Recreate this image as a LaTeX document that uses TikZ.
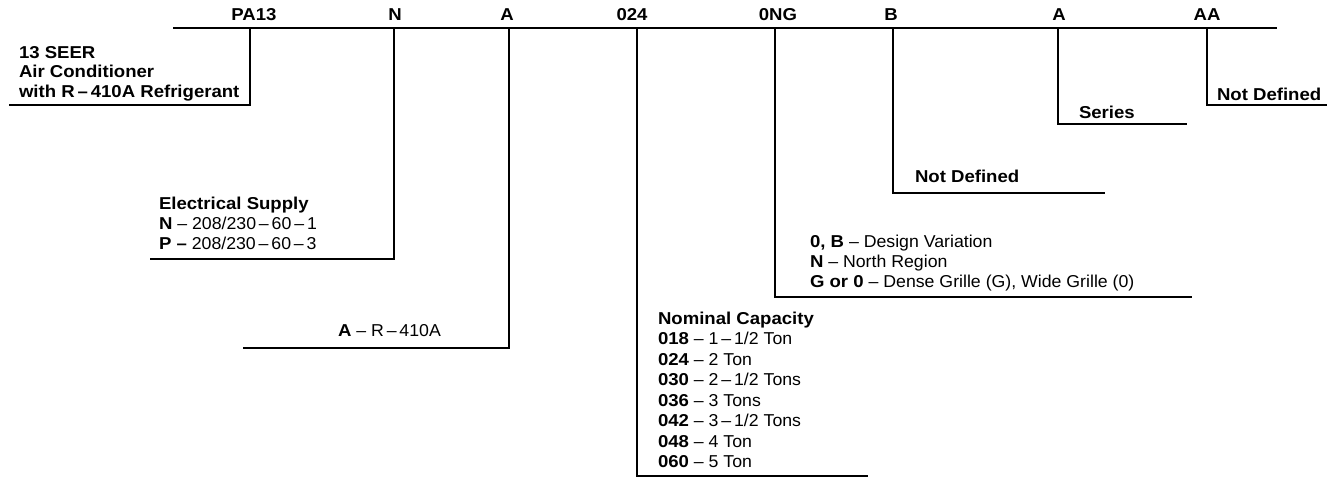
\documentclass[tikz,border=0pt]{standalone}
\usepackage{fontspec}
\setmainfont{Liberation Sans}[FakeStretch=1.03, BoldFeatures={FakeStretch=1.08}]
\newcommand\rdash{\,–\,}
\begin{document}
\begin{tikzpicture}[x=1pt, y=-1pt, line width=2pt,
  every node/.style = {inner sep=0pt, font=\fontsize{17.2}{20}\selectfont},
  code/.style = {anchor=base, font=\fontsize{17.2}{20}\selectfont\bfseries},
  legend/.style = {align=left, anchor=base west},
  legendbf/.style = {legend, font=\fontsize{17.2}{19.5}\selectfont\bfseries}]
\useasboundingbox (0,0) rectangle (1340,479);

    % model number along the top
    \coordinate (barL) at (173,27.5);
    \coordinate (barR) at (1277,27.5);
    \draw (barL) -- (barR);

    \node[code] (pa) at (254,20) {PA13};
    \node[code] (n) at (395,20) {N};
    \node[code] (a) at (507,20) {A};
    \node[code] (cap) at (632,20) {024};
    \node[code] (ong) at (778,20) {0NG};
    \node[code] (b) at (891,20) {B};
    \node[code] (ser) at (1059,20) {A};
    \node[code] (aa) at (1207,20) {AA};

    % legends (placed at the baseline of their last line)
    \node[legendbf] (1) at (18,97) {13 SEER\\Air Conditioner\\with R\rdash 410A Refrigerant};
    \node[legend] (2) at (158,249.3) {\textbf{Electrical Supply}\\\textbf{N} – 208/230\rdash 60\rdash 1\\\textbf{P –} 208/230\rdash 60\rdash 3};
    \node[legend] (3) at (337,336.7) {\textbf{A} – R\rdash 410A};
    \node[legend, font=\fontsize{17.2}{20.5}\selectfont] (4) at (657,467.7) {\textbf{Nominal Capacity}\\\textbf{018} – 1\rdash 1/2 Ton\\\textbf{024} – 2 Ton\\\textbf{030} – 2\rdash 1/2 Tons\\\textbf{036} – 3 Tons\\\textbf{042} – 3\rdash 1/2 Tons\\\textbf{048} – 4 Ton\\\textbf{060} – 5 Ton};
    \node[legend] (5) at (809,287.5) {\textbf{0, B} – Design Variation\\\textbf{N} – North Region\\\textbf{G or 0} – Dense Grille (G), Wide Grille (0)};
    \node[legendbf] (6) at (914,182.7) {Not Defined};
    \node[legendbf] (7) at (1078,118.3) {Series};
    \node[legendbf] (8) at (1216,100) {Not Defined};

    % leaders
    \coordinate (pa-bar) at (250,27.5);   \coordinate (pa-end) at (9,105.3);
    \coordinate (n-bar) at (394,27.5);    \coordinate (n-end) at (150,258.7);
    \coordinate (a-bar) at (509,27.5);    \coordinate (a-end) at (243,348);
    \coordinate (cap-bar) at (636.5,27.5);\coordinate (cap-end) at (868,475.7);
    \coordinate (ong-bar) at (775,27.5);  \coordinate (ong-end) at (1192,296.7);
    \coordinate (b-bar) at (892.5,27.5);  \coordinate (b-end) at (1105,193.3);
    \coordinate (ser-bar) at (1058.3,27.5);\coordinate (ser-end) at (1187,124.3);
    \coordinate (aa-bar) at (1207.3,27.5);\coordinate (aa-end) at (1327,105);

    \draw (pa-bar) |- (pa-end);
    \draw (n-bar) |- (n-end);
    \draw (a-bar) |- (a-end);
    \draw (cap-bar) |- (cap-end);
    \draw (ong-bar) |- (ong-end);
    \draw (b-bar) |- (b-end);
    \draw (ser-bar) |- (ser-end);
    \draw (aa-bar) |- (aa-end);

\end{tikzpicture}
\end{document}
